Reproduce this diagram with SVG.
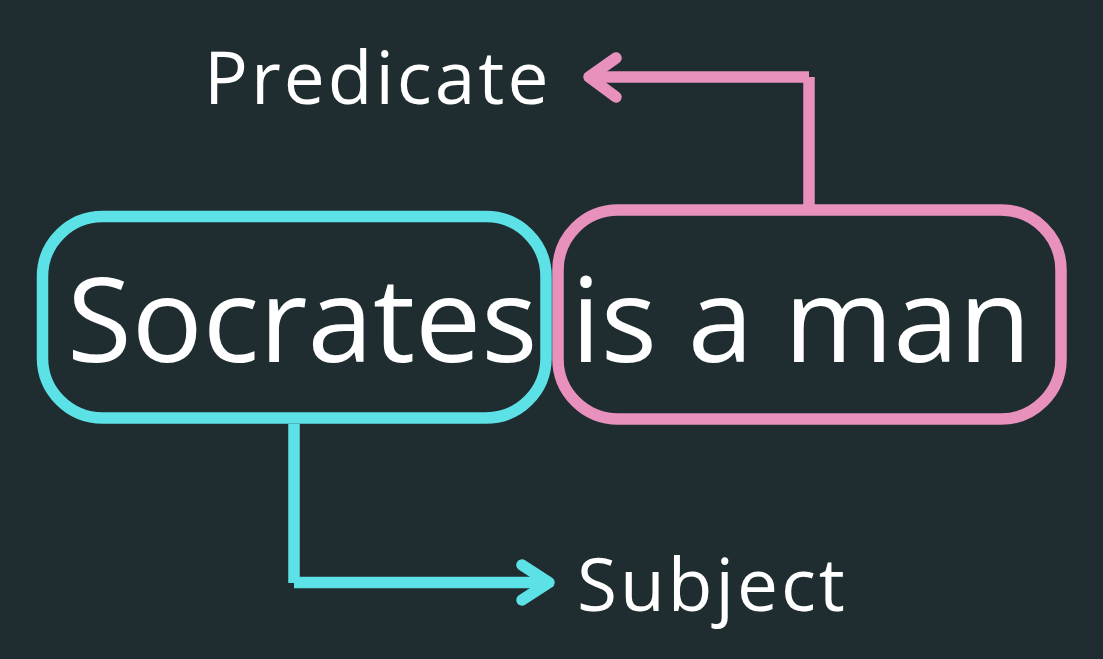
<svg xmlns="http://www.w3.org/2000/svg" width="1103" height="659" viewBox="0 0 1103 659">
<style>
.bg{fill:#1f2c30}
.box{fill:none;stroke-width:11.5}
.cy{stroke:#5ce1e6}
.pk{stroke:#e891bd}
.big{font-family:"Open Sans","Noto Sans",sans-serif;font-size:118px;fill:#ffffff}
.lbl{font-family:"Open Sans","Noto Sans",sans-serif;font-size:73px;fill:#ffffff;letter-spacing:3px}
.ln{fill:none;stroke-width:11.5;stroke-linecap:butt}
.hd{fill:none;stroke-width:11.5;stroke-linecap:round;stroke-linejoin:round}
</style>
<rect class="bg" x="0" y="0" width="1103" height="659"/>
<g id="connectors">
  <line class="ln pk" x1="809" y1="210" x2="809" y2="77"/>
  <line class="ln pk" x1="809" y1="77" x2="592" y2="77"/>
  <polyline class="hd pk" points="616,58 589,77 616,97"/>
  <line class="ln cy" x1="294" y1="424" x2="294" y2="583"/>
  <line class="ln cy" x1="294" y1="582.5" x2="546" y2="582.5"/>
  <polyline class="hd cy" points="522,565 549,582.5 522,600"/>
</g>
<g id="subject-box">
  <rect class="box cy" x="42.5" y="216.5" width="503.5" height="201.5" rx="60" ry="60"/>
  <text class="big" x="67" y="362">Socrates</text>
</g>
<g id="predicate-box">
  <rect class="box pk" x="558" y="210" width="503" height="209" rx="60" ry="60"/>
  <text class="big" x="571" y="362">is a man</text>
</g>
<g id="predicate-label">
  <text class="lbl" x="204" y="104">Predicate</text>
</g>
<g id="subject-label">
  <text class="lbl" x="577" y="611">Subject</text>
</g>
</svg>
